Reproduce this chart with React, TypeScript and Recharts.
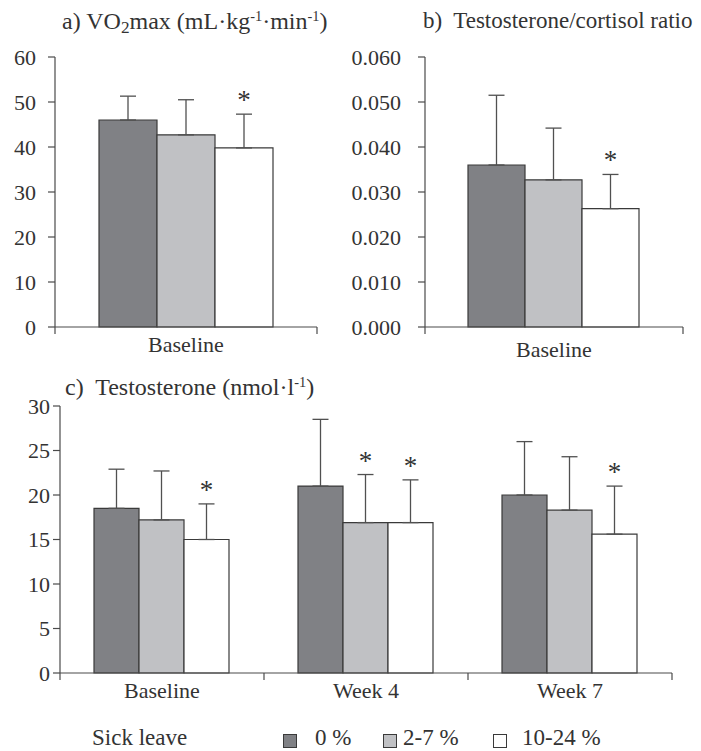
import { BarChart, Bar, XAxis, YAxis, ErrorBar, LabelList } from "recharts";

const FONT = '"Liberation Serif", "Times New Roman", serif';
const INK = "#333333";
const AXIS = "#4a4a4a";
const EDGE = "#3a3a3a";

// sick-leave groups, in drawing order
const SERIES = [
  { key: "none", label: "0 %", fill: "#808185" },
  { key: "low", label: "2-7 %", fill: "#c0c1c4" },
  { key: "high", label: "10-24 %", fill: "#ffffff" },
];

// a) VO2max, one value per sick-leave group
const baselineOnly = ["Baseline"];
const vo2Mean = [[46.0], [42.7], [39.8]];
const vo2Sd = [[5.3], [7.8], [7.5]];
const vo2Star = [[false], [false], [true]];
const vo2Ticks = [0, 10, 20, 30, 40, 50, 60];

// b) testosterone/cortisol ratio
const ratioMean = [[0.036], [0.0327], [0.0263]];
const ratioSd = [[0.0155], [0.0115], [0.0076]];
const ratioStar = [[false], [false], [true]];
const ratioTicks = [0, 0.01, 0.02, 0.03, 0.04, 0.05, 0.06];

// c) testosterone over the season
const weeks = ["Baseline", "Week 4", "Week 7"];
const testoMean = [
  [18.5, 21.0, 20.0],
  [17.2, 16.9, 18.3],
  [15.0, 16.9, 15.6],
];
const testoSd = [
  [4.4, 7.5, 6.0],
  [5.5, 5.4, 6.0],
  [4.0, 4.8, 5.4],
];
const testoStar = [
  [false, false, false],
  [false, true, false],
  [true, true, true],
];
const testoTicks = [0, 5, 10, 15, 20, 25, 30];

function buildRows(groups: string[], mean: number[][], sd: number[][]) {
  return groups.map((group, g) => {
    const row: any = { group };
    SERIES.forEach((s, i) => {
      row[s.key] = mean[i][g];
      row[s.key + "Err"] = [0, sd[i][g]];
    });
    return row;
  });
}

// asterisk above the error bar cap
const starLabel = (sd: number[], star: boolean[]) => (props: any) => {
  const { x, y, width, height, value, index } = props;
  if (!star[index]) return null;
  const perUnit = Number(height) / Number(value);
  const capY = Number(y) - sd[index] * perUnit;
  return (
    <text
      x={Number(x) + Number(width) / 2}
      y={capY - 5}
      textAnchor="middle"
      fontFamily={FONT}
      fontSize={27}
      fill={INK}
    >
      *
    </text>
  );
};

// category tick: marks on the band edges, label in the middle
const CategoryTick = (props: any) => {
  const { x, y, payload, index, count, labelDy, half } = props;
  const h = payload?.offset ?? half;
  return (
    <g>
      <line x1={x - h} x2={x - h} y1={y} y2={y + 7} stroke={AXIS} strokeWidth={1.2} />
      {index === count - 1 && (
        <line x1={x + h} x2={x + h} y1={y} y2={y + 7} stroke={AXIS} strokeWidth={1.2} />
      )}
      <text x={x} y={y + labelDy} textAnchor="middle" fontFamily={FONT} fontSize={22} fill={INK}>
        {payload.value}
      </text>
    </g>
  );
};

interface PanelProps {
  groups: string[];
  mean: number[][];
  sd: number[][];
  star: boolean[][];
  width: number;
  height: number;
  margin: { top: number; right: number; left: number; bottom: number };
  yWidth: number;
  xHeight: number;
  ticks: number[];
  tickMargin: number;
  labelDy: number;
  gap: number;
  format?: (v: number) => string;
}

const Panel = (p: PanelProps) => {
  const rows = buildRows(p.groups, p.mean, p.sd);
  const plotW = p.width - p.margin.left - p.margin.right - p.yWidth;
  return (
    <BarChart
      width={p.width}
      height={p.height}
      data={rows}
      margin={p.margin}
      barCategoryGap={p.gap}
      barGap={0}
    >
      <XAxis
        dataKey="group"
        height={p.xHeight}
        axisLine={{ stroke: AXIS, strokeWidth: 1.2 }}
        tickLine={false}
        tickSize={0}
        tickMargin={0}
        interval={0}
        tick={(t: any) => (
          <CategoryTick
            {...t}
            count={p.groups.length}
            labelDy={p.labelDy}
            half={plotW / p.groups.length / 2}
          />
        )}
      />
      <YAxis
        width={p.yWidth}
        domain={[p.ticks[0], p.ticks[p.ticks.length - 1]]}
        ticks={p.ticks}
        interval={0}
        tickFormatter={p.format}
        axisLine={{ stroke: AXIS, strokeWidth: 1.2 }}
        tickLine={{ stroke: AXIS, strokeWidth: 1.2 }}
        tickSize={7}
        tickMargin={p.tickMargin}
        tick={{ fontFamily: FONT, fontSize: 22, fill: INK }}
      />
      {SERIES.map((s, i) => (
        <Bar
          key={s.key}
          dataKey={s.key}
          fill={s.fill}
          stroke={EDGE}
          strokeWidth={1.2}
          isAnimationActive={false}
        >
          <ErrorBar
            dataKey={s.key + "Err"}
            direction="y"
            width={8}
            stroke="#505050"
            strokeWidth={1.3}
          />
          <LabelList dataKey={s.key} content={starLabel(p.sd[i], p.star[i])} />
        </Bar>
      ))}
    </BarChart>
  );
};

const sub = { fontSize: "0.72em", verticalAlign: "-0.25em", lineHeight: 0 };
const sup = { fontSize: "0.6em", verticalAlign: "0.55em", lineHeight: 0 };

const Title = ({ left, top, size = 24, children }: any) => (
  <div
    style={{
      position: "absolute",
      left,
      top,
      fontFamily: FONT,
      fontSize: size,
      lineHeight: "24px",
      color: INK,
      whiteSpace: "pre",
    }}
  >
    {children}
  </div>
);

const legendText = {
  position: "absolute" as const,
  top: 726,
  fontFamily: FONT,
  fontSize: 23,
  lineHeight: "24px",
  color: INK,
  whiteSpace: "pre" as const,
};

const swatchLeft = [283, 383, 493];
const swatchTextLeft = [315, 403, 522];

export default function App() {
  return (
    <div
      style={{
        position: "absolute",
        left: 0,
        top: 0,
        width: 701,
        height: 751,
        background: "#ffffff",
        overflow: "hidden",
      }}
    >
      <div style={{ position: "absolute", left: 0, top: 0 }}>
        <Panel
          groups={baselineOnly}
          mean={vo2Mean}
          sd={vo2Sd}
          star={vo2Star}
          width={340}
          height={360}
          margin={{ top: 57, right: 23, left: 5, bottom: 0 }}
          yWidth={50}
          xHeight={33}
          ticks={vo2Ticks}
          tickMargin={12}
          labelDy={25}
          gap={44}
        />
      </div>
      <div style={{ position: "absolute", left: 340, top: 0 }}>
        <Panel
          groups={baselineOnly}
          mean={ratioMean}
          sd={ratioSd}
          star={ratioStar}
          width={361}
          height={370}
          margin={{ top: 57, right: 18, left: 0, bottom: 0 }}
          yWidth={85}
          xHeight={43}
          ticks={ratioTicks}
          tickMargin={17}
          labelDy={30}
          gap={43}
          format={(v) => v.toFixed(3)}
        />
      </div>
      <div style={{ position: "absolute", left: 0, top: 370 }}>
        <Panel
          groups={weeks}
          mean={testoMean}
          sd={testoSd}
          star={testoStar}
          width={701}
          height={340}
          margin={{ top: 36, right: 29, left: 0, bottom: 0 }}
          yWidth={60}
          xHeight={37}
          ticks={testoTicks}
          tickMargin={3}
          labelDy={25}
          gap={34}
        />
      </div>

      <Title left={62} top={9}>
        a) VO<span style={sub}>2</span>max (mL·kg<span style={sup}>-1</span>·min
        <span style={sup}>-1</span>)
      </Title>
      <Title left={423} top={9} size={23}>
        {"b)  Testosterone/cortisol ratio"}
      </Title>
      <Title left={65} top={375}>
        {"c)  Testosterone (nmol·l"}
        <span style={sup}>-1</span>)
      </Title>

      <div style={{ ...legendText, left: 92 }}>Sick leave</div>
      {SERIES.map((s, i) => (
        <div key={s.key}>
          <div
            style={{
              position: "absolute",
              left: swatchLeft[i],
              top: 734,
              width: 12,
              height: 12,
              background: s.fill,
              border: `1px solid ${EDGE}`,
            }}
          />
          <div style={{ ...legendText, left: swatchTextLeft[i] }}>{s.label}</div>
        </div>
      ))}
    </div>
  );
}
